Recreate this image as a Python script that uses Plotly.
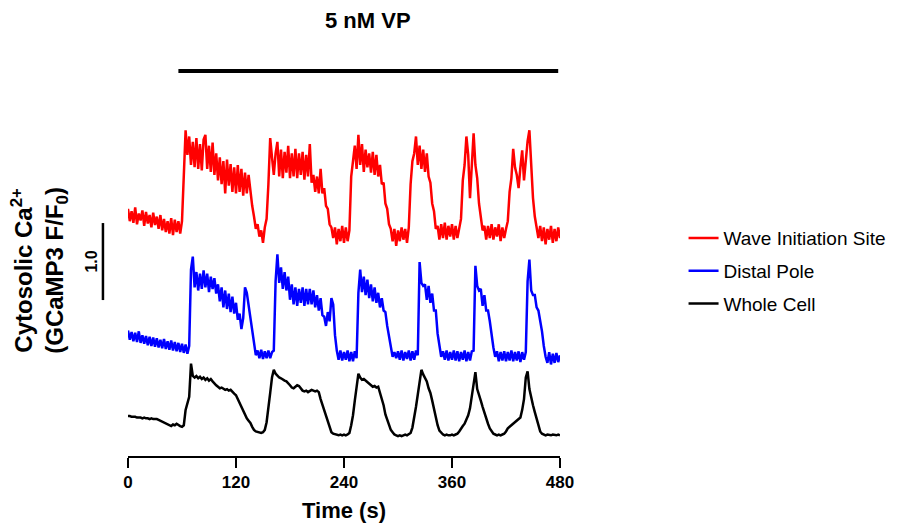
import numpy as np
import plotly.graph_objects as go

# ---- data ----
time_s = np.arange(0, 481, 2)  # sampling grid, seconds

wave_initiation = [
    1.08, 0.92, 1.05, 0.90, 1.10, 0.88, 1.02, 0.93, 1.06, 0.86,
    1.04, 0.89, 1.00, 0.84, 1.03, 0.87, 0.98, 0.82, 1.00, 0.80,
    0.95, 0.78, 0.92, 0.76, 0.96, 0.74, 0.94, 0.78, 0.92, 0.76,
    0.92, 1.60, 2.10, 1.78, 2.02, 1.65, 1.95, 1.62, 2.00, 1.60,
    1.92, 1.58, 1.98, 2.04, 1.60, 1.90, 1.56, 1.94, 1.52, 1.80,
    1.45, 1.75, 1.40, 1.70, 1.28, 1.72, 1.38, 1.66, 1.30, 1.62,
    1.28, 1.65, 1.30, 1.60, 1.25, 1.55, 1.28, 1.52, 1.30, 1.12,
    0.98, 0.82, 0.88, 0.72, 0.80, 0.64, 0.84, 0.95, 1.40, 2.00,
    1.75, 1.52, 1.80, 1.95, 1.50, 1.85, 1.48, 1.82, 1.55, 1.90,
    1.48, 1.80, 1.50, 1.86, 1.48, 1.80, 1.52, 1.82, 1.46, 1.78,
    1.50, 1.92, 1.42, 1.52, 1.30, 1.50, 1.28, 1.60, 1.28, 1.35,
    1.12, 1.08, 0.88, 0.84, 0.70, 0.84, 0.62, 0.82, 0.66, 0.86,
    0.64, 0.84, 0.66, 0.80, 1.50, 1.75, 1.90, 1.60, 2.04, 1.65,
    1.92, 1.56, 1.85, 1.62, 1.80, 1.55, 1.82, 1.52, 1.78, 1.50,
    1.65, 1.40, 1.42, 1.15, 1.08, 0.88, 0.82, 0.66, 0.82, 0.60,
    0.80, 0.66, 0.84, 0.68, 0.82, 0.64, 0.84, 1.40, 1.70, 1.80,
    2.02, 1.65, 1.90, 1.60, 1.85, 1.56, 1.80, 1.50, 1.42, 1.15,
    1.05, 0.82, 0.86, 0.68, 0.88, 0.70, 0.90, 0.68, 0.86, 0.72,
    0.88, 0.68, 0.86, 0.70, 0.84, 0.95, 1.45, 1.65, 2.02, 1.78,
    1.22, 1.72, 2.06, 1.65, 1.48, 1.15, 1.00, 0.80, 0.86, 0.68,
    0.86, 0.70, 0.88, 0.68, 0.84, 0.72, 0.88, 0.66, 0.84, 0.70,
    0.82, 0.92, 1.30, 1.48, 1.86, 1.62, 1.52, 1.35, 1.62, 1.84,
    1.45, 1.72, 1.96, 2.10, 1.55, 1.22, 0.98, 0.86, 0.70, 0.86,
    0.66, 0.84, 0.62, 0.82, 0.68, 0.86, 0.64, 0.82, 0.66, 0.84, 0.70,
]

distal_pole = [
    1.06, 0.94, 1.04, 0.92, 1.03, 0.91, 1.05, 0.90, 1.00, 0.89,
    0.99, 0.87, 0.98, 0.86, 0.97, 0.85, 0.96, 0.84, 0.94, 0.83,
    0.95, 0.82, 0.92, 0.81, 0.93, 0.80, 0.91, 0.79, 0.90, 0.78,
    0.89, 0.77, 0.88, 0.76, 0.86, 1.85, 2.02, 1.62, 1.82, 1.58,
    1.80, 1.60, 1.84, 1.62, 1.80, 1.56, 1.76, 1.60, 1.74, 1.54,
    1.66, 1.44, 1.62, 1.36, 1.58, 1.34, 1.54, 1.30, 1.50, 1.28,
    1.42, 1.20, 1.28, 1.08, 1.22, 1.62, 1.55, 1.38, 1.22, 1.02,
    0.86, 0.74, 0.80, 0.70, 0.81, 0.69, 0.79, 0.70, 0.80, 0.70,
    0.78, 0.80, 1.70, 2.05, 1.68, 1.88, 1.60, 1.82, 1.58, 1.76,
    1.46, 1.66, 1.40, 1.62, 1.38, 1.60, 1.42, 1.62, 1.38, 1.60,
    1.40, 1.60, 1.40, 1.58, 1.36, 1.52, 1.32, 1.48, 1.26, 1.24,
    1.12, 1.30, 1.18, 1.48, 1.40, 1.00, 0.80, 0.68, 0.80, 0.67,
    0.78, 0.68, 0.80, 0.66, 0.78, 0.66, 0.79, 0.70, 1.55, 1.85,
    1.56, 1.76, 1.52, 1.72, 1.48, 1.66, 1.44, 1.62, 1.42, 1.55,
    1.36, 1.48, 1.32, 1.30, 1.12, 1.00, 0.85, 0.72, 0.78, 0.70,
    0.79, 0.68, 0.80, 0.67, 0.78, 0.69, 0.80, 0.67, 0.79, 0.68,
    0.80, 0.74, 1.95, 1.68, 1.64, 1.66, 1.46, 1.64, 1.42, 1.54,
    1.32, 1.32, 1.02, 0.86, 0.72, 0.79, 0.68, 0.80, 0.67, 0.78,
    0.68, 0.80, 0.67, 0.79, 0.66, 0.78, 0.68, 0.80, 0.66, 0.78,
    0.67, 0.79, 0.80, 1.90, 1.64, 1.58, 1.60, 1.38, 1.52, 1.32,
    1.32, 1.18, 1.00, 0.84, 0.72, 0.79, 0.66, 0.78, 0.67, 0.79,
    0.66, 0.78, 0.67, 0.80, 0.66, 0.78, 0.67, 0.79, 0.65, 0.78,
    0.68, 0.78, 1.70, 1.98, 1.58, 1.52, 1.52, 1.36, 1.32, 1.20,
    1.05, 0.86, 0.72, 0.64, 0.78, 0.62, 0.76, 0.64, 0.77, 0.65, 0.74,
]

whole_cell = [
    1.00, 1.00, 0.99, 0.99, 0.99, 0.98, 0.98, 0.98, 0.97, 0.98,
    0.97, 0.97, 0.96, 0.97, 0.96, 0.96, 0.96, 0.95, 0.94, 0.93,
    0.92, 0.91, 0.89, 0.88, 0.87, 0.89, 0.88, 0.90, 0.88, 0.87,
    0.86, 0.88, 1.08, 1.18, 1.25, 1.68, 1.52, 1.50, 1.52, 1.49,
    1.51, 1.48, 1.50, 1.47, 1.49, 1.46, 1.48, 1.45, 1.42, 1.40,
    1.38, 1.36, 1.37, 1.35, 1.34, 1.35, 1.33, 1.34, 1.31, 1.29,
    1.27, 1.22, 1.16, 1.10, 1.06, 1.02, 0.97, 0.94, 0.91, 0.86,
    0.82, 0.80, 0.79, 0.78, 0.78, 0.79, 0.82, 0.92, 1.08, 1.30,
    1.50, 1.60, 1.55, 1.52, 1.50, 1.49, 1.47, 1.46, 1.45, 1.43,
    1.40, 1.37, 1.36, 1.38, 1.40, 1.39, 1.36, 1.33, 1.32, 1.33,
    1.31, 1.32, 1.34, 1.33, 1.32, 1.33, 1.31, 1.22, 1.15, 1.08,
    1.00, 0.92, 0.84, 0.79, 0.77, 0.76, 0.76, 0.75, 0.76, 0.75,
    0.76, 0.75, 0.76, 0.78, 0.88, 1.01, 1.20, 1.36, 1.55, 1.50,
    1.47, 1.48, 1.46, 1.44, 1.42, 1.39, 1.38, 1.39, 1.37, 1.38,
    1.30, 1.24, 1.14, 1.02, 0.95, 0.88, 0.82, 0.79, 0.76, 0.75,
    0.74, 0.75, 0.74, 0.75, 0.76, 0.75, 0.76, 0.78, 0.85, 0.97,
    1.12, 1.28, 1.45, 1.60, 1.54, 1.50, 1.45, 1.36, 1.30, 1.20,
    1.08, 0.98, 0.88, 0.81, 0.78, 0.76, 0.75, 0.76, 0.75, 0.75,
    0.76, 0.75, 0.76, 0.77, 0.80, 0.84, 0.87, 0.90, 0.95, 1.01,
    1.10, 1.27, 1.45, 1.57, 1.35, 1.26, 1.20, 1.12, 1.04, 0.97,
    0.90, 0.84, 0.80, 0.77, 0.76, 0.75, 0.76, 0.75, 0.76, 0.77,
    0.80, 0.84, 0.86, 0.88, 0.90, 0.92, 0.93, 0.95, 0.98, 1.08,
    1.22, 1.50, 1.58, 1.35, 1.22, 1.14, 1.05, 0.97, 0.88, 0.80,
    0.77, 0.76, 0.75, 0.76, 0.75, 0.75, 0.76, 0.75, 0.75, 0.76, 0.75,
]

series_names = ["Wave Initiation Site", "Distal Pole", "Whole Cell"]
series_colors = ["#ff0000", "#0000ff", "#000000"]
series_offsets = [2.61, 1.05, 0.0]  # vertical stacking offsets (F/F0 units)

x_ticks = [0, 120, 240, 360, 480]
vp_start, vp_end = 56, 478  # 5 nM VP application (s)
scale_bar_bottom, scale_bar_len = 2.506, 1.0

FONT = "Arial, Liberation Sans, Helvetica, sans-serif"

fig = go.Figure()
for name, vals, col, off in zip(series_names,
                                [wave_initiation, distal_pole, whole_cell],
                                series_colors, series_offsets):
    fig.add_trace(go.Scatter(
        x=time_s, y=np.array(vals) + off, mode="lines", name=name,
        legendgroup=name,
        line=dict(color=col, width=2.5),
    ))

# VP application bar (above the traces)
fig.add_shape(type="line", xref="x", yref="paper",
              x0=vp_start, x1=vp_end, y0=0.972, y1=0.972,
              line=dict(color="black", width=4))
fig.add_annotation(text="<b>5 nM VP</b>", xref="x", yref="paper",
                   x=(vp_start + vp_end) / 2, y=1.101, showarrow=False,
                   xanchor="center", yanchor="middle",
                   font=dict(family=FONT, size=22, color="black"))

# vertical scale bar
fig.add_shape(type="line", xref="paper", yref="y",
              x0=-0.058, x1=-0.058,
              y0=scale_bar_bottom, y1=scale_bar_bottom + scale_bar_len,
              line=dict(color="black", width=2.5))
fig.add_annotation(text="<b>%.1f</b>" % scale_bar_len, xref="paper", yref="y",
                   x=-0.0833, y=scale_bar_bottom + scale_bar_len / 2,
                   xanchor="center", yanchor="middle",
                   textangle=-90, showarrow=False,
                   font=dict(family=FONT, size=16, color="black"))

# y title
fig.add_annotation(text="<b>Cytosolic Ca<sup>2+</sup></b><br><b>(GCaMP3 F/F<sub>0</sub>)</b>",
                   xref="paper", yref="paper", x=-0.204, y=0.47,
                   xanchor="center", yanchor="middle",
                   textangle=-90, showarrow=False,
                   font=dict(family=FONT, size=24, color="black"))

fig.update_layout(
    width=897, height=527,
    margin=dict(l=120, r=345, t=52, b=79),
    paper_bgcolor="white", plot_bgcolor="white",
    font=dict(family=FONT, color="black"),
    showlegend=True,
    legend=dict(x=1.286, y=0.598, xanchor="left", yanchor="top",
                font=dict(family=FONT, size=19, color="black"),
                traceorder="grouped", tracegroupgap=5,
                bgcolor="rgba(0,0,0,0)"),
    xaxis=dict(range=[0, 480], tickvals=x_ticks,
               ticktext=[str(v) for v in x_ticks],
               showline=True, linecolor="black", linewidth=2,
               ticks="outside", ticklen=10, tickwidth=2, tickcolor="black",
               showgrid=False, zeroline=False,
               tickfont=dict(family=FONT, size=17, color="black", weight="bold"),
               title=dict(text="<b>Time (s)</b>", standoff=11,
                          font=dict(family=FONT, size=22, color="black"))),
    yaxis=dict(range=[0.481, 5.623], visible=False),
)

fig.write_html("out.html")
